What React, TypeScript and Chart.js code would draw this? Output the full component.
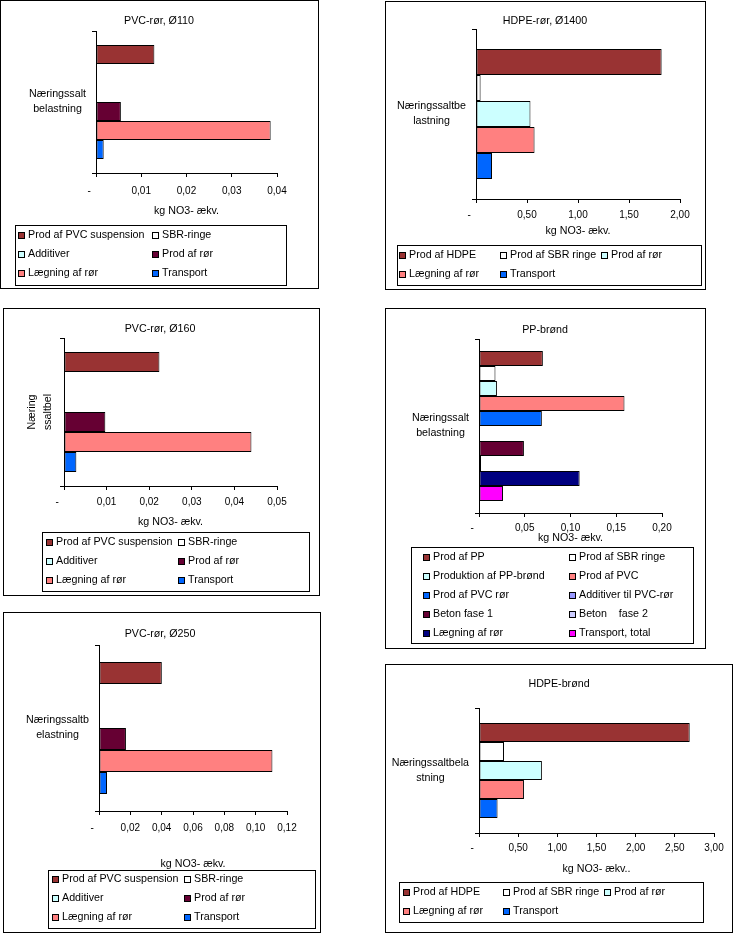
import React, { useEffect, useRef } from "react";
import { Chart, registerables } from "chart.js";

Chart.register(...registerables);

const FONT = '"Liberation Sans", Arial, Helvetica, sans-serif';
const FS = 10.7;
const TICK_FS = 10;

// ---------------- DATA ----------------
const AXIS_TITLE = "kg NO3- ækv.";
const AXIS_TITLE_BROND = "kg NO3- ækv..";

const TITLE_PVC110 = "PVC-rør, Ø110";
const TITLE_HDPE1400 = "HDPE-rør, Ø1400";
const TITLE_PVC160 = "PVC-rør, Ø160";
const TITLE_PP = "PP-brønd";
const TITLE_PVC250 = "PVC-rør, Ø250";
const TITLE_HDPE_BROND = "HDPE-brønd";

const CAT_PVC110 = ["Næringssalt", "belastning"];
const CAT_HDPE1400 = ["Næringssaltbe", "lastning"];
const CAT_PVC160 = ["Næring", "ssaltbel"];
const CAT_PP = ["Næringssalt", "belastning"];
const CAT_PVC250 = ["Næringssaltb", "elastning"];
const CAT_HDPE_BROND = ["Næringssaltbela", "stning"];

const SERIES_PVC = ["Prod af PVC suspension", "SBR-ringe", "Additiver", "Prod af rør", "Lægning af rør", "Transport"];
const COLORS_PVC = ["#993333", "#FFFFFF", "#CCFFFF", "#660033", "#FF8080", "#0066FF"];

const SERIES_HDPE = ["Prod af HDPE", "Prod af SBR ringe", "Prod af rør", "Lægning af rør", "Transport"];
const COLORS_HDPE = ["#993333", "#FFFFFF", "#CCFFFF", "#FF8080", "#0066FF"];

const SERIES_PP = [
  "Prod af PP", "Prod af SBR ringe", "Produktion af PP-brønd", "Prod af PVC", "Prod af PVC rør",
  "Additiver til PVC-rør", "Beton fase 1", "Beton    fase 2", "Lægning af rør", "Transport, total",
];
const COLORS_PP = ["#993333", "#FFFFFF", "#CCFFFF", "#FF8080", "#0066FF", "#9999FF", "#660033", "#CCCCFF", "#000080", "#FF00FF"];

const VALUES_PVC110 = [0.0129, 0, 0, 0.0055, 0.0386, 0.0017];
const VALUES_PVC160 = [0.0224, 0, 0, 0.0097, 0.044, 0.0029];
const VALUES_PVC250 = [0.0401, 0, 0, 0.0172, 0.1107, 0.0051];
const VALUES_HDPE1400 = [1.82, 0.045, 0.534, 0.574, 0.157];
const VALUES_HDPE_BROND = [2.69, 0.319, 0.803, 0.574, 0.237];
const VALUES_PP = [0.0698, 0.018, 0.0196, 0.159, 0.0687, 0, 0.0491, 0.0022, 0.11, 0.0262];

const TICKS_PVC110 = ["-", "0,01", "0,02", "0,03", "0,04"];
const TICKS_HDPE1400 = ["-", "0,50", "1,00", "1,50", "2,00"];
const TICKS_PVC160 = ["-", "0,01", "0,02", "0,03", "0,04", "0,05"];
const TICKS_PP = ["-", "0,05", "0,10", "0,15", "0,20"];
const TICKS_PVC250 = ["-", "0,02", "0,04", "0,06", "0,08", "0,10", "0,12"];
const TICKS_HDPE_BROND = ["-", "0,50", "1,00", "1,50", "2,00", "2,50", "3,00"];

// [min, max, step]
const AXIS_PVC110 = [0, 0.04, 0.01];
const AXIS_HDPE1400 = [0, 2, 0.5];
const AXIS_PVC160 = [0, 0.05, 0.01];
const AXIS_PP = [0, 0.2, 0.05];
const AXIS_PVC250 = [0, 0.12, 0.02];
const AXIS_HDPE_BROND = [0, 3, 0.5];

// ---------------- LAYOUT ----------------
type PanelCfg = {
  box: number[];
  area: number[];
  barPx: number;
  title: string;
  titleXY: number[];
  axisTitle: string;
  axisTitleY: number;
  tickPad: number;
  category: string[];
  rotatedX?: number[];
  series: string[];
  colors: string[];
  values: number[];
  axis: number[];
  ticks: string[];
  legendBox: number[];
  legendCols: number[];
  legendRows: number[];
};

const PANELS: PanelCfg[] = [
  {
    box: [0, 0, 318, 288], area: [96, 31, 277, 173], barPx: 19,
    title: TITLE_PVC110, titleXY: [159, 21], axisTitle: AXIS_TITLE, axisTitleY: 211, tickPad: 8,
    category: CAT_PVC110, series: SERIES_PVC, colors: COLORS_PVC, values: VALUES_PVC110,
    axis: AXIS_PVC110, ticks: TICKS_PVC110,
    legendBox: [15, 225, 286, 285], legendCols: [28, 162], legendRows: [235, 254, 273],
  },
  {
    box: [385, 1, 705, 289], area: [476, 29, 680, 199], barPx: 26,
    title: TITLE_HDPE1400, titleXY: [545, 21], axisTitle: AXIS_TITLE, axisTitleY: 231, tickPad: 6,
    category: CAT_HDPE1400, series: SERIES_HDPE, colors: COLORS_HDPE, values: VALUES_HDPE1400,
    axis: AXIS_HDPE1400, ticks: TICKS_HDPE1400,
    legendBox: [397, 245, 701, 285], legendCols: [409, 510, 611], legendRows: [255, 274],
  },
  {
    box: [3, 308, 319, 595], area: [64, 338, 277, 486], barPx: 20,
    title: TITLE_PVC160, titleXY: [160, 329], axisTitle: AXIS_TITLE, axisTitleY: 522, tickPad: 6,
    category: CAT_PVC160, rotatedX: [32, 48], series: SERIES_PVC, colors: COLORS_PVC, values: VALUES_PVC160,
    axis: AXIS_PVC160, ticks: TICKS_PVC160,
    legendBox: [42, 532, 309, 591], legendCols: [56, 188], legendRows: [542, 561, 580],
  },
  {
    box: [385, 308, 705, 648], area: [479, 339, 662, 513], barPx: 15,
    title: TITLE_PP, titleXY: [545, 330], axisTitle: AXIS_TITLE, axisTitleY: 538, tickPad: 5,
    category: CAT_PP, series: SERIES_PP, colors: COLORS_PP, values: VALUES_PP,
    axis: AXIS_PP, ticks: TICKS_PP,
    legendBox: [411, 547, 693, 643], legendCols: [433, 579], legendRows: [557, 576, 595, 614, 633],
  },
  {
    box: [3, 612, 320, 932], area: [99, 645, 287, 811], barPx: 22,
    title: TITLE_PVC250, titleXY: [160, 634], axisTitle: AXIS_TITLE, axisTitleY: 864, tickPad: 7,
    category: CAT_PVC250, series: SERIES_PVC, colors: COLORS_PVC, values: VALUES_PVC250,
    axis: AXIS_PVC250, ticks: TICKS_PVC250,
    legendBox: [48, 870, 315, 928], legendCols: [62, 194], legendRows: [879, 898, 917],
  },
  {
    box: [385, 664, 732, 932], area: [479, 708, 714, 833], barPx: 19,
    title: TITLE_HDPE_BROND, titleXY: [559, 684], axisTitle: AXIS_TITLE_BROND, axisTitleY: 869, tickPad: 5,
    category: CAT_HDPE_BROND, series: SERIES_HDPE, colors: COLORS_HDPE, values: VALUES_HDPE_BROND,
    axis: AXIS_HDPE_BROND, ticks: TICKS_HDPE_BROND,
    legendBox: [399, 882, 703, 922], legendCols: [413, 513, 614], legendRows: [892, 911],
  },
];

function Panel({ cfg }: { cfg: PanelCfg }) {
  const ref = useRef<HTMLCanvasElement | null>(null);
  const [x0, y0, x1, y1] = cfg.box;
  const W = x1 - x0 + 1;
  const H = y1 - y0 + 1;

  useEffect(() => {
    const canvas = ref.current;
    if (!canvas) return;
    const [L, T, R, B] = cfg.area;

    const decor = {
      id: "decor",
      afterDraw(chart: any) {
        const ctx = chart.ctx as CanvasRenderingContext2D;
        ctx.save();
        ctx.strokeStyle = "#000";
        ctx.lineWidth = 1;
        ctx.strokeRect(0.5, 0.5, W - 1, H - 1);

        ctx.fillStyle = "#000";
        ctx.font = `${FS}px ${FONT}`;
        ctx.textAlign = "center";
        ctx.textBaseline = "middle";
        ctx.fillText(cfg.title, cfg.titleXY[0] - x0, cfg.titleXY[1] - y0);

        const ca = chart.chartArea;
        ctx.fillText(cfg.axisTitle, (ca.left + ca.right) / 2, cfg.axisTitleY - y0);

        if (cfg.rotatedX) {
          const yc = chart.scales.y.getPixelForValue(0);
          const lines = chart.data.labels[0] as string[];
          lines.forEach((line: string, i: number) => {
            ctx.save();
            ctx.translate(cfg.rotatedX![i] - x0, yc);
            ctx.rotate(-Math.PI / 2);
            ctx.fillText(line, 0, 0);
            ctx.restore();
          });
        }

        const [lx0, ly0, lx1, ly1] = cfg.legendBox;
        ctx.strokeRect(lx0 - x0 + 0.5, ly0 - y0 + 0.5, lx1 - lx0, ly1 - ly0);
        ctx.textAlign = "left";
        const ncol = cfg.legendCols.length;
        chart.data.datasets.forEach((ds: any, i: number) => {
          const tx = cfg.legendCols[i % ncol] - x0;
          const ty = cfg.legendRows[Math.floor(i / ncol)] - y0;
          const sx = Math.round(tx - 10);
          const sy = Math.round(ty - 3.5);
          ctx.fillStyle = ds.backgroundColor;
          ctx.fillRect(sx, sy, 7, 7);
          ctx.strokeStyle = "#000";
          ctx.strokeRect(sx + 0.5, sy + 0.5, 6, 6);
          ctx.fillStyle = "#000";
          ctx.fillText(ds.label, tx, ty);
        });
        ctx.restore();
      },
    };

    const chart = new Chart(canvas, {
      type: "bar",
      data: {
        labels: [cfg.category],
        datasets: cfg.series.map((s, i) => ({
          label: s,
          data: [cfg.values[i]],
          backgroundColor: cfg.colors[i],
          borderColor: "#000",
          borderWidth: 1,
          borderSkipped: false,
          barThickness: cfg.barPx,
          inflateAmount: 0,
        })),
      },
      options: {
        indexAxis: "y",
        responsive: false,
        maintainAspectRatio: false,
        animation: false,
        events: [],
        layout: { padding: { left: 0, top: T - y0, right: W - (R - x0), bottom: 0 } },
        plugins: {
          legend: { display: false },
          title: { display: false },
          tooltip: { enabled: false },
        },
        scales: {
          x: {
            type: "linear",
            min: cfg.axis[0],
            max: cfg.axis[1],
            ticks: {
              stepSize: cfg.axis[2],
              autoSkip: false,
              maxRotation: 0,
              minRotation: 0,
              padding: cfg.tickPad,
              color: "#000",
              font: { family: FONT, size: TICK_FS },
              callback: (_v: any, i: number) => {
                const t = cfg.ticks[i] ?? "";
                return t === "-" ? "-\u00A0\u2007\u2007" : t;
              },
            },
            grid: { display: true, drawOnChartArea: false, drawTicks: true, tickLength: 4, color: "#000", lineWidth: 1 },
            border: { display: true, color: "#000", width: 1 },
            afterFit: (s: any) => {
              s.height = H - (B - y0);
            },
          },
          y: {
            type: "category",
            offset: true,
            grid: { offset: true, drawOnChartArea: false, drawTicks: true, tickLength: 4, color: "#000", lineWidth: 1 },
            border: { display: true, color: "#000", width: 1 },
            ticks: {
              display: !cfg.rotatedX,
              crossAlign: "center",
              padding: 6,
              color: "#000",
              font: { family: FONT, size: FS, lineHeight: 15 / FS },
            },
            afterFit: (s: any) => {
              s.width = L - x0;
            },
          },
        },
      } as any,
      plugins: [decor],
    });
    return () => chart.destroy();
  }, [cfg]);

  return (
    <canvas
      ref={ref}
      width={W}
      height={H}
      style={{ position: "absolute", left: x0, top: y0, width: W, height: H }}
    />
  );
}

export default function App() {
  return (
    <div style={{ position: "absolute", left: 0, top: 0, width: 734, height: 933, background: "#fff", overflow: "hidden" }}>
      {PANELS.map((p, i) => (
        <Panel key={i} cfg={p} />
      ))}
    </div>
  );
}
